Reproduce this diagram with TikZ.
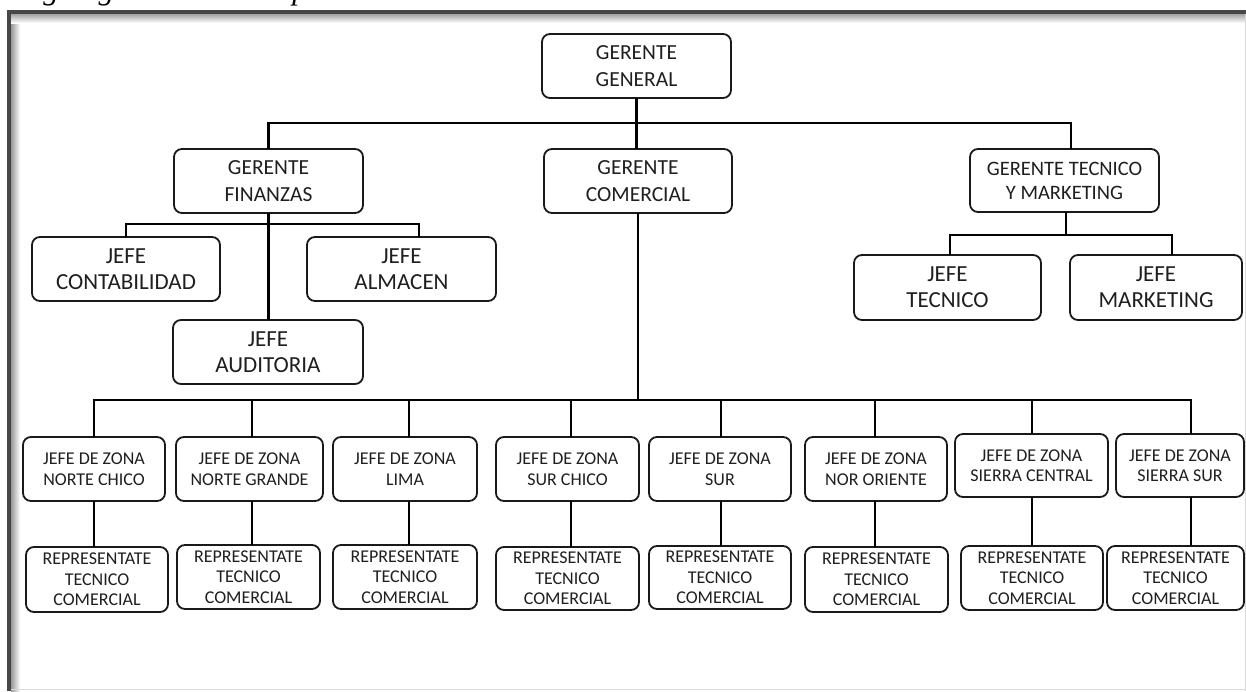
\documentclass[tikz,border=0pt]{standalone}
\usepackage{fontspec}
\setmainfont{Carlito}
\newfontfamily\titlefont{Liberation Serif}
\usetikzlibrary{calc}
\tikzset{
  box/.style={draw=black!90, line width=1.8pt, rounded corners=8pt, inner sep=0pt, outer sep=0pt, align=center, text=black!88},
  bigtxt/.style={font=\fontsize{21.5}{26.5}\selectfont},
  gtmtxt/.style={font=\fontsize{20.5}{24}\selectfont},
  jefetxt/.style={font=\fontsize{23}{26}\selectfont},
  zonetxt/.style={font=\fontsize{18}{20.5}\selectfont},
  conn/.style={line width=2.8pt, black},
}
\begin{document}
\begin{tikzpicture}[x=1pt,y=-1pt]
\useasboundingbox (0,0) rectangle (1246,691);
% frame with inner shadow
\fill[white] (0,0) rectangle (1246,691);
\shade[left color=black!40, right color=white] (11,13) rectangle (20,691);
\shade[top color=black!40, bottom color=white] (11,13) rectangle (1246,23);
\fill[black!72] (7,10) rectangle (11,691);
\fill[black!72] (7,10) rectangle (1246,13.5);
\draw[black!15, line width=1pt] (1245.5,14) -- (1245.5,691);
\draw[black!15, line width=1pt] (11,689.5) -- (1246,689.5);
% title above the frame, only its descenders inside the picture
\begin{scope}
\clip (0,0) rectangle (1246,691);
\node[anchor=base west, inner sep=0pt] (title) at (10,-1) {\titlefont\itshape\fontsize{31}{36}\selectfont Organigrama de la empresa};
\end{scope}

% level 1 and 2
\node[box, bigtxt, minimum width=189pt, minimum height=64pt] (gg) at (636.5,66) {GERENTE\\GENERAL};
\node[box, bigtxt, minimum width=189pt, minimum height=64pt] (gf) at (268.5,181) {GERENTE\\FINANZAS};
\node[box, bigtxt, minimum width=188pt, minimum height=64pt] (gc) at (638,181) {GERENTE\\COMERCIAL};
\node[box, gtmtxt, minimum width=189pt, minimum height=63pt] (gtm) at (1064.5,180.5) {GERENTE TECNICO\\Y MARKETING};

% finance children
\node[box, jefetxt, minimum width=188pt, minimum height=64pt] (cont) at (126,269) {JEFE\\CONTABILIDAD};
\node[box, jefetxt, minimum width=189pt, minimum height=64pt] (alm) at (401.5,269) {JEFE\\ALMACEN};
\node[box, jefetxt, minimum width=190pt, minimum height=64pt] (aud) at (268,352) {JEFE\\AUDITORIA};

% technical children
\node[box, jefetxt, minimum width=187pt, minimum height=65pt] (jtec) at (947.5,287.5) {JEFE\\TECNICO};
\node[box, jefetxt, minimum width=172pt, minimum height=65pt] (jmkt) at (1156,287.5) {JEFE\\MARKETING};

% zones
\node[box, zonetxt, minimum width=142pt, minimum height=64pt] (z1) at (94,469) {JEFE DE ZONA\\NORTE CHICO};
\node[box, zonetxt, minimum width=147pt, minimum height=64pt] (z2) at (249.5,469) {JEFE DE ZONA\\NORTE GRANDE};
\node[box, zonetxt, minimum width=144pt, minimum height=64pt] (z3) at (405,469) {JEFE DE ZONA\\LIMA};
\node[box, zonetxt, minimum width=143pt, minimum height=64pt] (z4) at (567.5,469) {JEFE DE ZONA\\SUR CHICO};
\node[box, zonetxt, minimum width=142pt, minimum height=64pt] (z5) at (720,469) {JEFE DE ZONA\\SUR};
\node[box, zonetxt, minimum width=142pt, minimum height=64pt] (z6) at (876,469) {JEFE DE ZONA\\NOR ORIENTE};
\node[box, zonetxt, minimum width=153pt, minimum height=63pt] (z7) at (1031.5,465.5) {JEFE DE ZONA\\SIERRA CENTRAL};
\node[box, zonetxt, minimum width=128pt, minimum height=63pt] (z8) at (1180,465.5) {JEFE DE ZONA\\SIERRA SUR};

% representatives
\node[box, zonetxt, minimum width=142pt, minimum height=65pt] (r1) at (97,579.5) {REPRESENTATE\\TECNICO\\COMERCIAL};
\node[box, zonetxt, minimum width=143pt, minimum height=64pt] (r2) at (248.5,577) {REPRESENTATE\\TECNICO\\COMERCIAL};
\node[box, zonetxt, minimum width=144pt, minimum height=64pt] (r3) at (405,577) {REPRESENTATE\\TECNICO\\COMERCIAL};
\node[box, zonetxt, minimum width=143pt, minimum height=63pt] (r4) at (567.5,578.5) {REPRESENTATE\\TECNICO\\COMERCIAL};
\node[box, zonetxt, minimum width=142pt, minimum height=63pt] (r5) at (720,577.5) {REPRESENTATE\\TECNICO\\COMERCIAL};
\node[box, zonetxt, minimum width=143pt, minimum height=65pt] (r6) at (876.5,579.5) {REPRESENTATE\\TECNICO\\COMERCIAL};
\node[box, zonetxt, minimum width=142pt, minimum height=64pt] (r7) at (1032,578) {REPRESENTATE\\TECNICO\\COMERCIAL};
\node[box, zonetxt, minimum width=137pt, minimum height=64pt] (r8) at (1175.5,578) {REPRESENTATE\\TECNICO\\COMERCIAL};

% connectors: top level
\coordinate (topbus) at (638,123);
\draw[conn] (gg.south) -- (gg.south |- gc.north);
\draw[conn] (gf.north) |- (topbus) -| ([xshift=6.5pt]gtm.north);

% finance
\coordinate (finbus) at (268,224);
\draw[conn] (gf.south) -- (gf.south |- aud.north);
\draw[conn] (cont.north) |- (finbus) -| ([xshift=17.5pt]alm.north);

% technical & marketing
\coordinate (mktbus) at (1066,235);
\draw[conn] (gtm.south -| mktbus) -- (mktbus);
\draw[conn] ([xshift=2.5pt]jtec.north) |- (mktbus) -| ([xshift=16pt]jmkt.north);

% commercial
\coordinate (lowbus) at (638,400);
\draw[conn] (gc.south) -- (gc.south |- lowbus);
\foreach \i/\x in {1/94,2/252,3/409,4/571,5/721,6/875,7/1032,8/1191}{
  \coordinate (zb\i) at (\x,400);
}
\draw[conn] ([xshift=-1.4pt]zb1) -- ([xshift=1.4pt]zb8);
\foreach \i in {1,...,8}{
  \draw[conn] (zb\i) -- (zb\i |- z\i.north);
  \draw[conn] (z\i.south -| zb\i) -- (r\i.north -| zb\i);
}
\end{tikzpicture}
\end{document}
